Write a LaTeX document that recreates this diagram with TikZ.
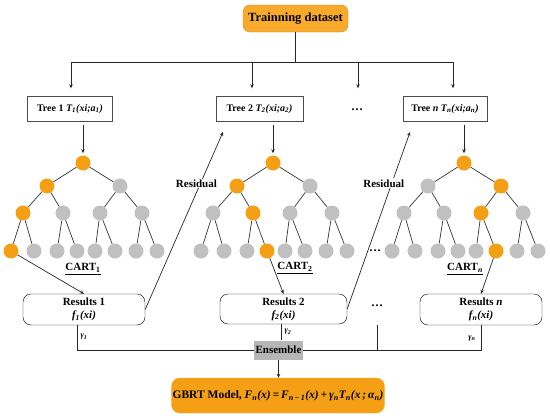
\documentclass[tikz,border=0pt]{standalone}
\usepackage{fontspec}
\setmainfont{Liberation Serif}
\usetikzlibrary{arrows.meta}
\definecolor{nodeorange}{RGB}{245,160,20}
\definecolor{nodegray}{RGB}{192,192,192}
\definecolor{boxorange}{RGB}{248,170,45}
\definecolor{boxline}{RGB}{222,140,20}
\definecolor{ensgray}{RGB}{182,182,182}

\begin{document}
\begin{tikzpicture}[x=1pt, y=-1pt, every node/.style={font=\fontsize{11}{13}\selectfont\bfseries},
	vo/.style={circle, fill=nodeorange, minimum size=15pt, inner sep=0pt},
	vg/.style={circle, fill=nodegray, minimum size=15pt, inner sep=0pt},
	edge/.style={draw=black!80, line width=0.7pt},
	line/.style={draw=black!85, line width=0.7pt},
	arr/.style={line, -{Stealth[length=4pt, width=3.5pt]}},
	treebox/.style={draw=black!70, minimum width=85pt, minimum height=25pt, inner sep=1pt, font=\fontsize{10}{12}\selectfont\bfseries},
	resbox/.style={draw, rounded corners=8pt, minimum width=122pt, minimum height=31pt, align=center, inner sep=1pt},
	gam/.style={font=\fontsize{8}{9}\selectfont\bfseries\itshape, inner sep=1pt}]
	\useasboundingbox (0,0) rectangle (550,418);
	% top of the picture
	\node[draw=boxline, fill=boxorange, rounded corners=7pt, minimum width=105pt, minimum height=27pt, inner sep=1pt, font=\fontsize{12.5}{14}\selectfont\bfseries] (data) at (295.5,18.5) {Trainning dataset};
	\coordinate (j1) at (71,62); \coordinate (j2) at (252,62); \coordinate (j3) at (358,62); \coordinate (j4) at (453,62);
	\draw[line] (data.south) -- (data.south |- j1);
	\draw[line] (j1) -- (j4);
	\node[treebox] (tree1) at (70,109) {Tree 1 \textit{T\textsubscript{1}(xi;a\textsubscript{1})}};
	\node[treebox, minimum width=87pt] (tree2) at (259.5,109) {Tree 2 \textit{T\textsubscript{2}(xi;a\textsubscript{2})}};
	\node[font=\fontsize{12}{14}\selectfont\bfseries] (dots1) at (357,110) {\dots};
	\node[treebox, minimum width=84pt] (treen) at (445,109) {Tree \textit{n} \textit{T\textsubscript{n}(xi;a\textsubscript{n})}};
	\draw[arr, shorten >=8pt] (j1) -- (j1 |- tree1.north);
	\draw[arr, shorten >=8pt] (j2) -- (j2 |- tree2.north);
	\draw[arr, shorten >=8pt] (j3) -- (j3 |- tree2.north);
	\draw[arr, shorten >=8pt] (j4) -- (j4 |- treen.north);

	% the three trees
	\begin{scope}[xshift=83pt]
		\foreach \i/\x/\y/\s in {1/0/163/vo, 2/-36/186/vo, 3/37/186/vg, 4/-60/213/vo, 5/-20/213/vg, 6/17/213/vg, 7/59/213/vg, 8/-72/251/vo, 9/-49/251/vg, 10/-26/251/vg, 11/-6/251/vg, 12/12/251/vg, 13/32/251/vg, 14/53/251/vg, 15/74/251/vg}
			\node[\s] (a\i) at (\x,\y) {};
		\foreach \i [evaluate=\i as \p using int(\i/2)] in {2,...,15} \draw[edge] (a\p) -- (a\i);
		\node (cart1) at (0,269) {\underline{CART\textsubscript{1}}};
	\end{scope}
	\begin{scope}[xshift=273pt]
		\foreach \i/\x/\y/\s in {1/0/163/vo, 2/-36/186/vo, 3/37/186/vg, 4/-60/213/vg, 5/-20/213/vo, 6/17/213/vg, 7/59/213/vg, 8/-72/251/vg, 9/-49/251/vg, 10/-26/251/vg, 11/-6/251/vo, 12/12/251/vg, 13/32/251/vg, 14/53/251/vg, 15/74/251/vg}
			\node[\s] (b\i) at (\x,\y) {};
		\foreach \i [evaluate=\i as \p using int(\i/2)] in {2,...,15} \draw[edge] (b\p) -- (b\i);
		\node (cart2) at (22,268) {\underline{CART\textsubscript{2}}};
	\end{scope}
	\begin{scope}[xshift=464pt]
		\foreach \i/\x/\y/\s in {1/0/163/vo, 2/-36/186/vg, 3/37/186/vo, 4/-60/213/vg, 5/-20/213/vg, 6/17/213/vo, 7/59/213/vg, 8/-72/251/vg, 9/-49/251/vg, 10/-26/251/vg, 11/-6/251/vg, 12/12/251/vg, 13/32/251/vo, 14/53/251/vg, 15/74/251/vg}
			\node[\s] (c\i) at (\x,\y) {};
		\foreach \i [evaluate=\i as \p using int(\i/2)] in {2,...,15} \draw[edge] (c\p) -- (c\i);
		\node (cartn) at (1,269) {\underline{CART\textsubscript{\textit{n}}}};
	\end{scope}
	\node[font=\fontsize{12}{14}\selectfont\bfseries] (dots2) at (375,251) {\dots};
	\draw[arr, shorten <=3pt, shorten >=2pt] (tree1.south -| a1) -- (a1);
	\draw[arr, shorten <=3pt, shorten >=2pt] (tree2.south -| b1) -- (b1);
	\draw[arr, shorten <=3pt, shorten >=2pt] (treen.south -| c1) -- (c1);

	% results
	\node[resbox] (res1) at (84,309.5) {Results 1\\\textit{f\textsubscript{1}(xi)}};
	\node[resbox, minimum width=127pt, minimum height=30pt] (res2) at (283.5,309) {Results 2\\\textit{f\textsubscript{2}(xi)}};
	\node[font=\fontsize{12}{14}\selectfont\bfseries] (dots3) at (377,306) {\dots};
	\node[resbox] (resn) at (481,309.5) {Results \textit{n}\\\textit{f\textsubscript{n}(xi)}};
	\draw[arr] (a8) -- (res1.north);
	\draw[arr] (b11) -- (res2.north);
	\draw[arr] (c13) -- (resn.north);
	\coordinate (r1) at (223,132); \coordinate (r2) at (410,132);
	\draw[arr] (res1.east) -- (r1) node[pos=0.71, fill=white, inner sep=1pt, xshift=-4pt] (resid1) {Residual};
	\draw[arr] (res2.east) -- (r2) node[pos=0.71, fill=white, inner sep=1pt, xshift=-8pt] (resid2) {Residual};

	% ensemble
	\node[fill=ensgray, minimum width=49pt, minimum height=19pt, inner sep=1pt] (ens) at (278.5,350) {Ensemble};
	\node[draw=boxorange, fill=nodeorange, rounded corners=8pt, minimum width=190pt, minimum height=35pt, inner sep=1pt, font=\fontsize{11.5}{13}\selectfont\bfseries] (gbrt) at (278,395.5) {GBRT Model, \textit{F\textsubscript{n}(x)\,=\,F\textsubscript{n\,−\,1}(x)\,+\,γ\textsubscript{n}T\textsubscript{n}(x\,;\,α\textsubscript{n})}};
	\draw[line] ([xshift=-7pt]res1.south) |- (ens.west);
	\draw[line] (ens.east) -| (resn.south);
	\draw[line] ([xshift=-2pt]res2.south) -- ([xshift=-2pt]res2.south |- ens.north);
	\draw[line] ([yshift=-19pt]dots3.center) -- (dots3 |- ens.east);
	\draw[arr] (ens.south) -- (ens.south |- gbrt.north);
	\node[gam] (g1) at (84,337) {γ\textsubscript{1}};
	\node[gam] (g2) at (288,332) {γ\textsubscript{2}};
	\node[gam] (gn) at (472,339) {γ\textsubscript{n}};
\end{tikzpicture}
\end{document}
